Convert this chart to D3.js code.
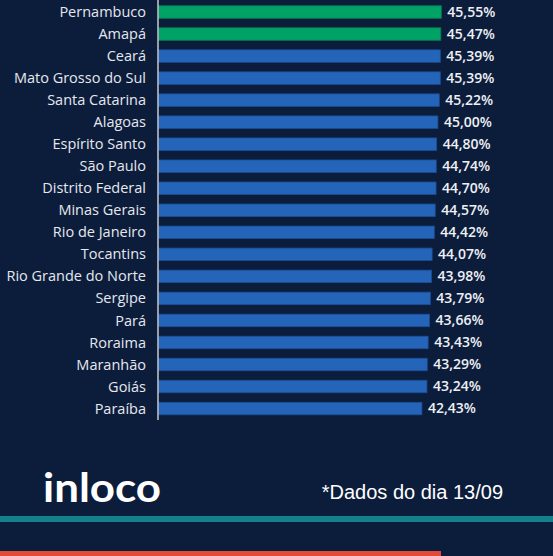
<!DOCTYPE html>
<html>
<head>
<meta charset="utf-8">
<script src="https://cdn.jsdelivr.net/npm/d3@7"></script>
<style>
  html, body { margin: 0; padding: 0; background: #0c1d3c; }
  svg { display: block; }
  .state-label { fill: #e6e8ee; font-family: "Open Sans", sans-serif; font-size: 14.5px; }
  .value-label { fill: #eef0f4; font-family: "Open Sans", sans-serif; font-size: 14px; font-weight: 600; }
</style>
</head>
<body>
<svg id="chart"></svg>
<script>
// data
const states = ["Pernambuco", "Amapá", "Ceará", "Mato Grosso do Sul", "Santa Catarina", "Alagoas",
  "Espírito Santo", "São Paulo", "Distrito Federal", "Minas Gerais", "Rio de Janeiro", "Tocantins",
  "Rio Grande do Norte", "Sergipe", "Pará", "Roraima", "Maranhão", "Goiás", "Paraíba"];
const values = [45.55, 45.47, 45.39, 45.39, 45.22, 45.00, 44.80, 44.74, 44.70, 44.57, 44.42, 44.07,
  43.98, 43.79, 43.66, 43.43, 43.29, 43.24, 42.43];
const highlighted = ["Pernambuco", "Amapá"];

const data = states.map((s, i) => ({state: s, value: values[i]}));

const config = {
  width: 553,
  height: 556,
  axisX: 158,
  top: 1,
  rowStep: 22.03,
  barHeight: 12.5
};

const svg = d3.select('#chart')
  .attr('width', config.width)
  .attr('height', config.height);

svg.append('rect')
  .attr('width', config.width)
  .attr('height', config.height)
  .attr('fill', '#0c1d3c');

const xScale = d3.scaleLinear().domain([0, 50]).range([config.axisX, config.axisX + 311]);
const yScale = d3.scaleBand()
  .domain(states)
  .range([config.top, config.top + config.rowStep * states.length])
  .paddingInner(1 - config.barHeight / config.rowStep)
  .paddingOuter((1 - config.barHeight / config.rowStep) / 2);

const fmt = v => v.toFixed(2).replace('.', ',') + '%';

svg.selectAll('.bar')
  .data(data)
  .join('rect')
  .attr('class', 'bar')
  .attr('x', xScale(0) + 0.5)
  .attr('y', d => yScale(d.state))
  .attr('width', d => xScale(d.value) - xScale(0) - 0.5)
  .attr('height', yScale.bandwidth())
  .attr('fill', d => highlighted.includes(d.state) ? '#00a266' : '#2465ba')
  .attr('stroke', d => highlighted.includes(d.state) ? '#0a7a50' : '#1a4e94')
  .attr('stroke-width', 0.8);

svg.selectAll('.state-label')
  .data(data)
  .join('text')
  .attr('class', 'state-label')
  .attr('x', 146)
  .attr('y', d => yScale(d.state) + yScale.bandwidth() / 2)
  .attr('dy', '0.35em')
  .attr('text-anchor', 'end')
  .text(d => d.state);

svg.selectAll('.value-label')
  .data(data)
  .join('text')
  .attr('class', 'value-label')
  .attr('x', d => xScale(d.value) + 6)
  .attr('y', d => yScale(d.state) + yScale.bandwidth() / 2)
  .attr('dy', '0.35em')
  .text(d => fmt(d.value));

// axis line
svg.append('line')
  .attr('x1', config.axisX).attr('x2', config.axisX)
  .attr('y1', 0).attr('y2', 420)
  .attr('stroke', '#c4c8d0')
  .attr('stroke-width', 1.5);

// footer
svg.append('text')
  .attr('x', 43)
  .attr('y', 502)
  .attr('fill', '#ffffff')
  .attr('font-family', 'Lato, sans-serif')
  .attr('font-weight', 700)
  .attr('font-size', 40)
  .attr('textLength', 118)
  .attr('lengthAdjust', 'spacingAndGlyphs')
  .text('inloco');

svg.append('text')
  .attr('x', 503)
  .attr('y', 499)
  .attr('text-anchor', 'end')
  .attr('fill', '#ffffff')
  .attr('font-family', '"Liberation Sans", Arial, sans-serif')
  .attr('font-size', 20)
  .text('*Dados do dia 13/09');

svg.append('rect')
  .attr('x', 0).attr('y', 516)
  .attr('width', config.width).attr('height', 6)
  .attr('fill', '#14808a');

svg.append('rect')
  .attr('x', 0).attr('y', 551)
  .attr('width', 441).attr('height', 5)
  .attr('fill', '#e24b39');
</script>
</body>
</html>
